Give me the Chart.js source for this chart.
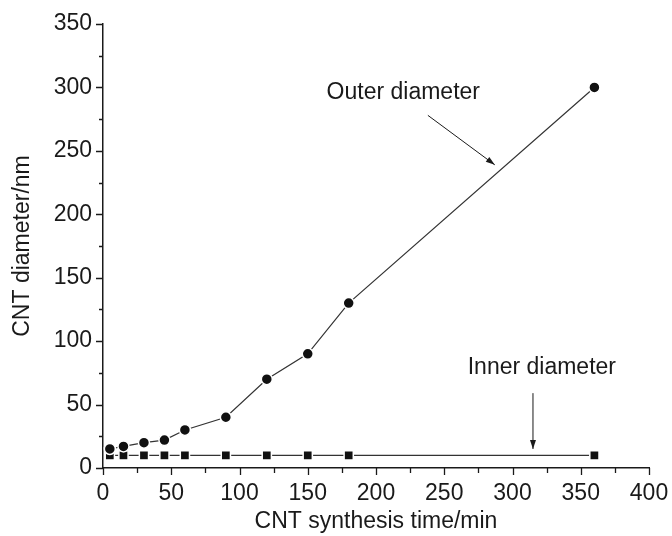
<!DOCTYPE html>
<html>
<head>
<meta charset="utf-8">
<script src="https://cdn.jsdelivr.net/npm/chart.js@4.4.0/dist/chart.umd.min.js"></script>
<style>
  html, body { margin: 0; padding: 0; background: #fff; }
  #wrap { width: 672px; height: 536px; }
</style>
</head>
<body>
<div id="wrap"><canvas id="myChart" width="672" height="536"></canvas></div>
<script>
// data
const times = [5, 15, 30, 45, 60, 90, 120, 150, 180, 360];
const outerDiameter = [15, 17, 20, 22, 30, 40, 70, 90, 130, 300];
const innerDiameter = [10, 10, 10, 10, 10, 10, 10, 10, 10, 10];
const xTicks = [0, 50, 100, 150, 200, 250, 300, 350, 400];
const yTicks = [0, 50, 100, 150, 200, 250, 300, 350];

const FONT = '"Liberation Sans", Arial, sans-serif';
const INK = '#1a1a1a';

function toPoints(xs, ys) {
    return xs.map((x, i) => ({ x: x, y: ys[i] }));
}

// text labels with arrows, placed in data units
const notes = [
    { text: 'Outer diameter', x: 220, y: 296, from: [238, 278], to: [287, 239] },
    { text: 'Inner diameter', x: 321.5, y: 79, from: [315, 59], to: [315, 15] }
];

// outward ticks: long ones at labels, short ones between
const ticksPlugin = {
    id: 'ticks',
    afterDraw(chart) {
        const ctx = chart.ctx;
        const xs = chart.scales.x, ys = chart.scales.y;
        ctx.save();
        ctx.strokeStyle = INK;
        ctx.lineWidth = 1.3;
        ctx.beginPath();
        for (let v = 0; v <= 400; v += 25) {
            const px = Math.round(xs.getPixelForValue(v)) + 0.5;
            const len = xTicks.includes(v) ? 7 : 5;
            ctx.moveTo(px, ys.bottom);
            ctx.lineTo(px, ys.bottom + len);
        }
        for (let v = 0; v <= 350; v += 25) {
            const py = Math.round(ys.getPixelForValue(v)) + 0.5;
            const len = yTicks.includes(v) ? 7 : 4;
            ctx.moveTo(xs.left, py);
            ctx.lineTo(xs.left - len, py);
        }
        ctx.stroke();

        // notes
        ctx.fillStyle = INK;
        ctx.font = '23px ' + FONT;
        ctx.textAlign = 'center';
        ctx.textBaseline = 'middle';
        ctx.lineWidth = 1;
        notes.forEach(n => {
            ctx.fillText(n.text, xs.getPixelForValue(n.x), ys.getPixelForValue(n.y));
            const x1 = xs.getPixelForValue(n.from[0]), y1 = ys.getPixelForValue(n.from[1]);
            const x2 = xs.getPixelForValue(n.to[0]), y2 = ys.getPixelForValue(n.to[1]);
            ctx.beginPath();
            ctx.moveTo(x1, y1);
            ctx.lineTo(x2, y2);
            ctx.stroke();
            const a = Math.atan2(y2 - y1, x2 - x1);
            const L = 9, W = 3;
            ctx.beginPath();
            ctx.moveTo(x2, y2);
            ctx.lineTo(x2 - L * Math.cos(a) + W * Math.sin(a), y2 - L * Math.sin(a) - W * Math.cos(a));
            ctx.lineTo(x2 - L * Math.cos(a) - W * Math.sin(a), y2 - L * Math.sin(a) + W * Math.cos(a));
            ctx.closePath();
            ctx.fill();
        });
        ctx.restore();
    }
};

const ctx = document.getElementById('myChart').getContext('2d');
const myChart = new Chart(ctx, {
    type: 'scatter',
    data: {
        datasets: [{
            label: 'Outer diameter',
            data: toPoints(times, outerDiameter),
            showLine: true,
            borderColor: '#333',
            borderWidth: 1.2,
            pointStyle: 'circle',
            pointRadius: 5.5,
            pointBackgroundColor: '#111',
            pointBorderColor: '#fff',
            pointBorderWidth: 1.5
        }, {
            label: 'Inner diameter',
            data: toPoints(times, innerDiameter),
            showLine: true,
            borderColor: '#333',
            borderWidth: 1.2,
            pointStyle: 'rect',
            pointRadius: 6.5,
            pointBackgroundColor: '#111',
            pointBorderColor: '#fff',
            pointBorderWidth: 1.5
        }]
    },
    options: {
        responsive: false,
        animation: false,
        layout: { padding: { top: 24, right: 23, left: 0, bottom: 0 } },
        plugins: {
            legend: { display: false },
            tooltip: { enabled: false }
        },
        scales: {
            x: {
                type: 'linear',
                min: 0,
                max: 400,
                afterFit: s => {
                    s.height = 68;
                    s.paddingLeft = 0;
                    s.paddingRight = 0;
                },
                afterBuildTicks: s => { s.ticks = xTicks.map(v => ({ value: v })); },
                border: { display: true, color: INK, width: 1.5 },
                grid: { display: false, drawTicks: false },
                ticks: {
                    color: INK,
                    padding: 12,
                    maxRotation: 0,
                    autoSkip: false,
                    font: { family: FONT, size: 23 }
                },
                title: {
                    display: true,
                    text: 'CNT synthesis time/min',
                    color: INK,
                    font: { family: FONT, size: 23 },
                    padding: { top: 0, bottom: 1 }
                }
            },
            y: {
                type: 'linear',
                min: 0,
                max: 350,
                afterFit: s => {
                    s.width = 103;
                    s.paddingTop = 0;
                    s.paddingBottom = 0;
                },
                afterBuildTicks: s => { s.ticks = yTicks.map(v => ({ value: v })); },
                border: { display: true, color: INK, width: 1.5 },
                grid: { display: false, drawTicks: false },
                ticks: {
                    color: INK,
                    padding: 11,
                    autoSkip: false,
                    font: { family: FONT, size: 23 }
                },
                title: {
                    display: true,
                    text: 'CNT diameter/nm',
                    color: INK,
                    font: { family: FONT, size: 23 },
                    padding: { top: 9, bottom: 0 }
                }
            }
        }
    },
    plugins: [ticksPlugin]
});
</script>
</body>
</html>
